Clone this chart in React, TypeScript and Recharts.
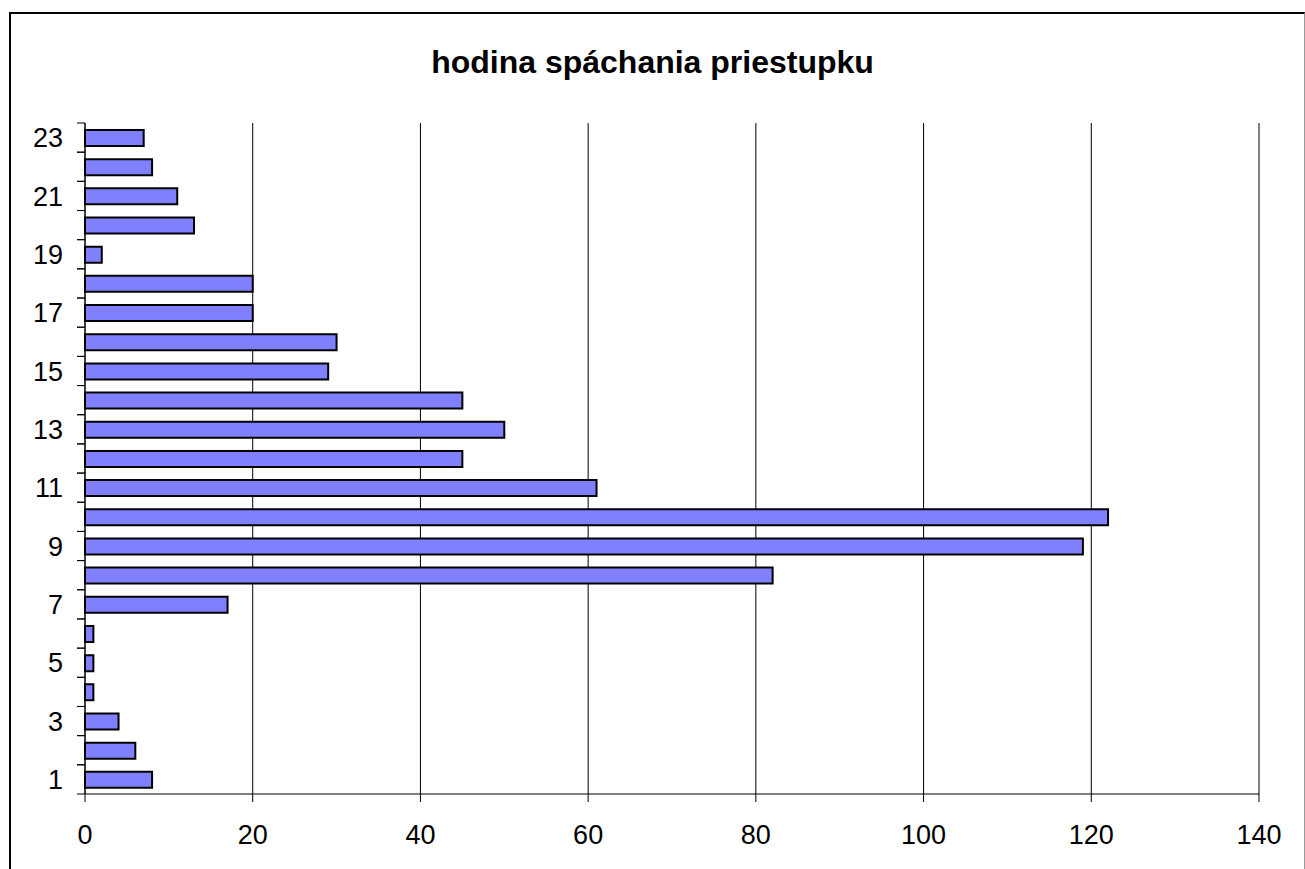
import React from 'react';
import { BarChart, Bar, XAxis, YAxis, CartesianGrid } from 'recharts';

const hours = ['1', '2', '3', '4', '5', '6', '7', '8', '9', '10', '11', '12', '13', '14', '15', '16', '17', '18', '19', '20', '21', '22', '23'];
const counts = [8, 6, 4, 1, 1, 1, 17, 82, 119, 122, 61, 45, 50, 45, 29, 30, 20, 20, 2, 13, 11, 8, 7];
const xTicks = [0, 20, 40, 60, 80, 100, 120, 140];

const data = hours.map((h, i) => ({ hour: h, count: counts[i] }));

const W = 1305;
const H = 869;
const margin = { top: 123, right: 46, bottom: 45, left: 0 };
const xAxisHeight = 30;
const band = (H - margin.top - margin.bottom - xAxisHeight) / hours.length;
const font = "Arial, 'Liberation Sans', sans-serif";

const HourTick = (props: any) => {
  const { x, y, payload, index } = props;
  const half = band / 2;
  return (
    <g>
      <line x1={x - 8} x2={x} y1={y - half} y2={y - half} stroke="#000" />
      <line x1={x - 8} x2={x} y1={y + half} y2={y + half} stroke="#000" />
      {index % 2 === 0 && (
        <text x={x - 22} y={y} dy="0.36em" textAnchor="end" fontSize={27} fill="#000" fontFamily={font}>
          {payload.value}
        </text>
      )}
    </g>
  );
};

export default function App() {
  return (
    <div style={{ position: 'absolute', left: 0, top: 0, width: W, height: H, background: '#fff', overflow: 'hidden' }}>
      <div style={{ position: 'absolute', left: 9, top: 12, width: 1296, height: 900, border: '2px solid #000', borderRight: '1px solid #999', boxSizing: 'border-box' }} />
      <div style={{ position: 'absolute', left: 0, top: 43, width: W, textAlign: 'center', fontFamily: font, fontWeight: 'bold', fontSize: 32, lineHeight: '38px', color: '#000' }}>
        hodina spáchania priestupku
      </div>
      <div style={{ position: 'absolute', left: 0, top: 0 }}>
        <BarChart width={W} height={H} data={data} layout="vertical" margin={margin}>
          <CartesianGrid horizontal={false} stroke="#000" strokeWidth={1} />
          <XAxis
            type="number"
            dataKey="count"
            domain={[0, 140]}
            ticks={xTicks}
            interval={0}
            height={xAxisHeight}
            tickSize={8}
            tickMargin={23}
            axisLine={{ stroke: '#000' }}
            tickLine={{ stroke: '#000' }}
            tick={{ fontSize: 27, fill: '#000', fontFamily: font }}
          />
          <YAxis
            type="category"
            dataKey="hour"
            reversed
            width={85}
            interval={0}
            tickSize={0}
            tickMargin={0}
            tickLine={false}
            axisLine={{ stroke: '#000' }}
            tick={<HourTick />}
          />
          <Bar dataKey="count" fill="#8080FF" stroke="#000" strokeWidth={2} barSize={16} isAnimationActive={false} />
        </BarChart>
      </div>
    </div>
  );
}
